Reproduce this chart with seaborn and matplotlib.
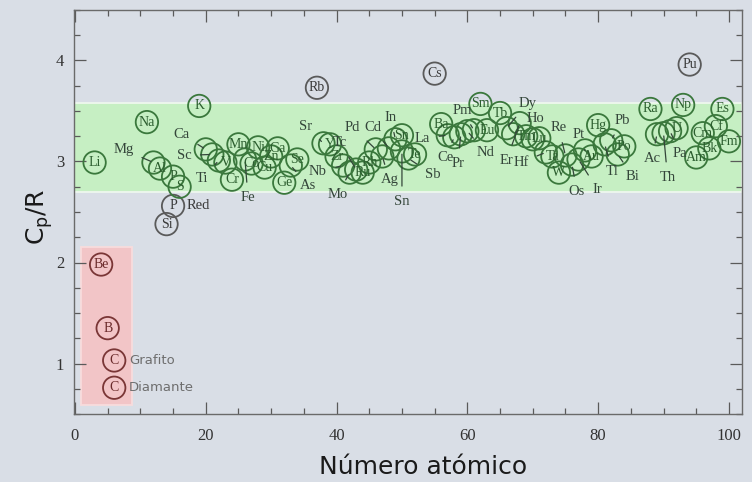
import matplotlib
matplotlib.use("Agg")
import matplotlib.pyplot as plt
from matplotlib.patches import Rectangle
from matplotlib.ticker import MultipleLocator
import seaborn as sns
import pandas as pd

# ---------------- datos ----------------
simbolos = ["Li", "Be", "B", "C", "C", "Na", "Mg", "Al", "Si", "P", "P", "S",
            "K", "Ca", "Sc", "Ti", "V", "Cr", "Mn", "Fe", "Co", "Ni", "Cu", "Zn",
            "Ga", "Ge", "As", "Se", "Rb", "Sr", "Y", "Zr", "Nb", "Mo", "Tc", "Ru",
            "Rh", "Pd", "Ag", "Cd", "In", "Sn", "Sn", "Sb", "Te", "Cs", "Ba", "La",
            "Ce", "Pr", "Nd", "Pm", "Sm", "Eu", "Tb", "Dy", "Ho", "Er", "Tm", "Yb",
            "Lu", "Hf", "Ta", "W", "Re", "Os", "Ir", "Pt", "Au", "Hg", "Tl", "Pb",
            "Bi", "Po", "Ra", "Ac", "Th", "Pa", "U", "Np", "Pu", "Am", "Cm", "Bk",
            "Cf", "Es", "Fm"]
variantes = ["", "", "", "Grafito", "Diamante", "", "", "", "", "", "Red", "",
             "", "", "", "", "", "", "", "", "", "", "", "",
             "", "", "", "", "", "", "", "", "", "", "", "",
             "", "", "", "", "", "", "gris", "", "", "", "", "",
             "", "", "", "", "", "", "", "", "", "", "", "",
             "", "", "", "", "", "", "", "", "", "", "", "",
             "", "", "", "", "", "", "", "", "", "", "", "",
             "", "", ""]
numero_atomico = [3, 4, 5, 6, 6, 11, 12, 13, 14, 15, 15, 16,
                  19, 20, 21, 22, 23, 24, 25, 26, 27, 28, 29, 30,
                  31, 32, 33, 34, 37, 38, 39, 40, 41, 42, 43, 44,
                  45, 46, 47, 48, 49, 50, 50, 51, 52, 55, 56, 57,
                  58, 59, 60, 61, 62, 63, 65, 66, 67, 68, 69, 70,
                  71, 72, 73, 74, 75, 76, 77, 78, 79, 80, 81, 82,
                  83, 84, 88, 89, 90, 91, 92, 93, 94, 95, 96, 97,
                  98, 99, 100]
cp_r = [2.99, 1.98, 1.35, 1.03, 0.76, 3.39, 2.99, 2.93, 2.38, 2.85, 2.56, 2.75,
        3.55, 3.12, 3.07, 3.01, 2.99, 2.82, 3.17, 3.02, 2.98, 3.14, 2.94, 3.05,
        3.13, 2.79, 2.96, 3.02, 3.73, 3.18, 3.17, 3.05, 2.96, 2.89, 2.92, 2.89,
        2.99, 3.12, 3.05, 3.13, 3.22, 3.26, 3.10, 3.03, 3.07, 3.87, 3.37, 3.26,
        3.24, 3.27, 3.30, 3.31, 3.57, 3.31, 3.48, 3.33, 3.27, 3.38, 3.25, 3.22,
        3.23, 3.09, 3.05, 2.89, 3.06, 2.97, 3.02, 3.11, 3.05, 3.36, 3.17, 3.21,
        3.07, 3.15, 3.52, 3.27, 3.28, 3.30, 3.33, 3.56, 3.96, 3.04, 3.28, 3.13,
        3.35, 3.52, 3.20]

banda_dulong_petit = [2.70, 3.58]          # franja verde (Cp/R)
zona_ligeros_x = [0.9, 8.7]                # franja roja (número atómico)
zona_ligeros_y = [0.59, 2.15]              # franja roja (Cp/R)

x_ticks_mayor, x_ticks_menor = 20, 5
y_ticks_mayor, y_ticks_menor = 1, 0.25

# ---------------- estilo ----------------
BG = "#d9dee6"
VERDE_BORDE, VERDE_TEXTO = "#3a783c", "#2c5e2f"
GRIS_BORDE, GRIS_TEXTO = "#5a5a5a", "#3a3a3a"
ROJO_BORDE, ROJO_TEXTO = "#7a3636", "#6a2a2a"
ETIQ_EXT = "#34463a"
SERIF = "Liberation Serif"

# desplazamientos (px, hacia abajo positivo) de etiquetas externas con línea guía
desplaz = {
    "Mg": (-30, -13), "Ca": (-24, -15), "Sc": (-28, 1), "Ti": (-17, 18),
    "Fe": (3, 38), "As": (17, 20), "Sr": (-18, -17), "Nb": (-25, 6),
    "Mo": (-12, 22), "Tc": (-16, -27), "Pd": (-23, -22), "Ag": (7, 23),
    "Cd": (-16, -21), "In": (-5, -22), "Sngris": (0, 50), "Sb": (24, 16),
    "La": (-25, 3), "Ce": (-9, 20), "Pr": (-3, 29), "Pm": (-12, -20),
    "Nd": (18, 21), "Dy": (21, -25), "Ho": (22, -16), "Er": (-13, 37),
    "Hf": (-25, 10), "Re": (-7, -28), "Os": (5, 27), "Ir": (19, 30),
    "Pt": (-6, -16), "Tl": (8, 27), "Pb": (11, -20), "Bi": (15, 22),
    "Ac": (-5, 24), "Th": (4, 44), "Pa": (10, 22),
}
sin_etiqueta = {"Yb"}

sns.set_style("ticks")
plt.rcParams["font.family"] = ["DejaVu Sans"]

df = pd.DataFrame({"simbolo": simbolos, "variante": variantes,
                   "z": numero_atomico, "cp": cp_r})
lo, hi = banda_dulong_petit


def grupo(r):
    if r.z <= zona_ligeros_x[1] and r.cp <= zona_ligeros_y[1]:
        return "ligero"
    if lo <= r.cp <= hi:
        return "normal"
    return "fuera"


df["grupo"] = df.apply(grupo, axis=1)
paleta = {"ligero": ROJO_BORDE, "normal": VERDE_BORDE, "fuera": GRIS_BORDE}
texto_col = {"ligero": ROJO_TEXTO, "normal": VERDE_TEXTO, "fuera": GRIS_TEXTO}

fig = plt.figure(figsize=(7.52, 4.82), dpi=100, facecolor=BG)
ax = fig.add_axes([74 / 752, 68 / 482, 668 / 752, 404 / 482])
ax.set_facecolor(BG)

ax.axhspan(lo, hi, facecolor="#c6efc3", edgecolor="#eef7ee", lw=1.3, zorder=0)
ax.add_patch(Rectangle((zona_ligeros_x[0], zona_ligeros_y[0]),
                       zona_ligeros_x[1] - zona_ligeros_x[0],
                       zona_ligeros_y[1] - zona_ligeros_y[0],
                       facecolor="#f2c5c7", edgecolor="#f8dcdd", lw=1.3, zorder=0))

sns.scatterplot(data=df, x="z", y="cp", hue="grupo", palette=paleta, s=260,
                linewidth=1.3, legend=False, ax=ax, zorder=3)
coll = ax.collections[-1]
cols = coll.get_facecolors()
coll.set_edgecolors(cols)
coll.set_facecolors("none")

for _, r in df.iterrows():
    clave = r.simbolo + r.variante
    if r.simbolo in sin_etiqueta:
        continue
    col = texto_col[r.grupo]
    if clave in desplaz:
        dx, dy = desplaz[clave]
        ax.annotate(r.simbolo, xy=(r.z, r.cp), xytext=(dx, -dy),
                    textcoords="offset pixels", ha="center", va="center",
                    fontsize=10.5, family=SERIF, color=ETIQ_EXT, zorder=5,
                    arrowprops=dict(arrowstyle="-", color=ETIQ_EXT, lw=0.9,
                                    shrinkA=4, shrinkB=2))
    else:
        ax.annotate(r.simbolo, xy=(r.z, r.cp), xytext=(0, 0),
                    textcoords="offset pixels", ha="center", va="center",
                    fontsize=10, family=SERIF, color=col, zorder=5)
        if r.variante in ("Grafito", "Diamante"):
            ax.annotate(r.variante, xy=(r.z, r.cp), xytext=(15, 0),
                        textcoords="offset pixels", ha="left", va="center",
                        fontsize=9.5, color="#6e6e6e", zorder=5)
        elif r.variante == "Red":
            ax.annotate(r.variante, xy=(r.z, r.cp), xytext=(14, 0),
                        textcoords="offset pixels", ha="left", va="center",
                        fontsize=10.5, family=SERIF, color=GRIS_TEXTO, zorder=5)

ax.set_xlim(-0.15, 102)
ax.set_ylim(0.5, 4.5)
ax.xaxis.set_major_locator(MultipleLocator(x_ticks_mayor))
ax.xaxis.set_minor_locator(MultipleLocator(x_ticks_menor))
ax.yaxis.set_major_locator(MultipleLocator(y_ticks_mayor))
ax.yaxis.set_minor_locator(MultipleLocator(y_ticks_menor))
ax.tick_params(which="both", direction="in", top=True, right=True,
               colors="#5a5a5a", labelcolor="#333333", width=0.9)
ax.tick_params(which="major", length=8.5, labelsize=12)
ax.tick_params(which="minor", length=4.5)
ax.tick_params(axis="x", which="major", pad=10)
ax.tick_params(axis="y", which="major", pad=7)
for lab in ax.get_xticklabels() + ax.get_yticklabels():
    lab.set_fontfamily(SERIF)
for sp in ax.spines.values():
    sp.set_color("#6a6a6a")
    sp.set_linewidth(1.0)

ax.set_xlabel("Número atómico", fontsize=18, color="#1a1a1a")
ax.set_ylabel(r"C$_{\mathregular{p}}$/R", fontsize=18, color="#1a1a1a")
ax.xaxis.set_label_coords(0.522, -0.131)
ax.xaxis.label.set_va("center")
ax.yaxis.set_label_coords(-0.051, 0.488)
ax.yaxis.label.set_va("center")

fig.savefig("out.png", dpi=100, facecolor=BG)
